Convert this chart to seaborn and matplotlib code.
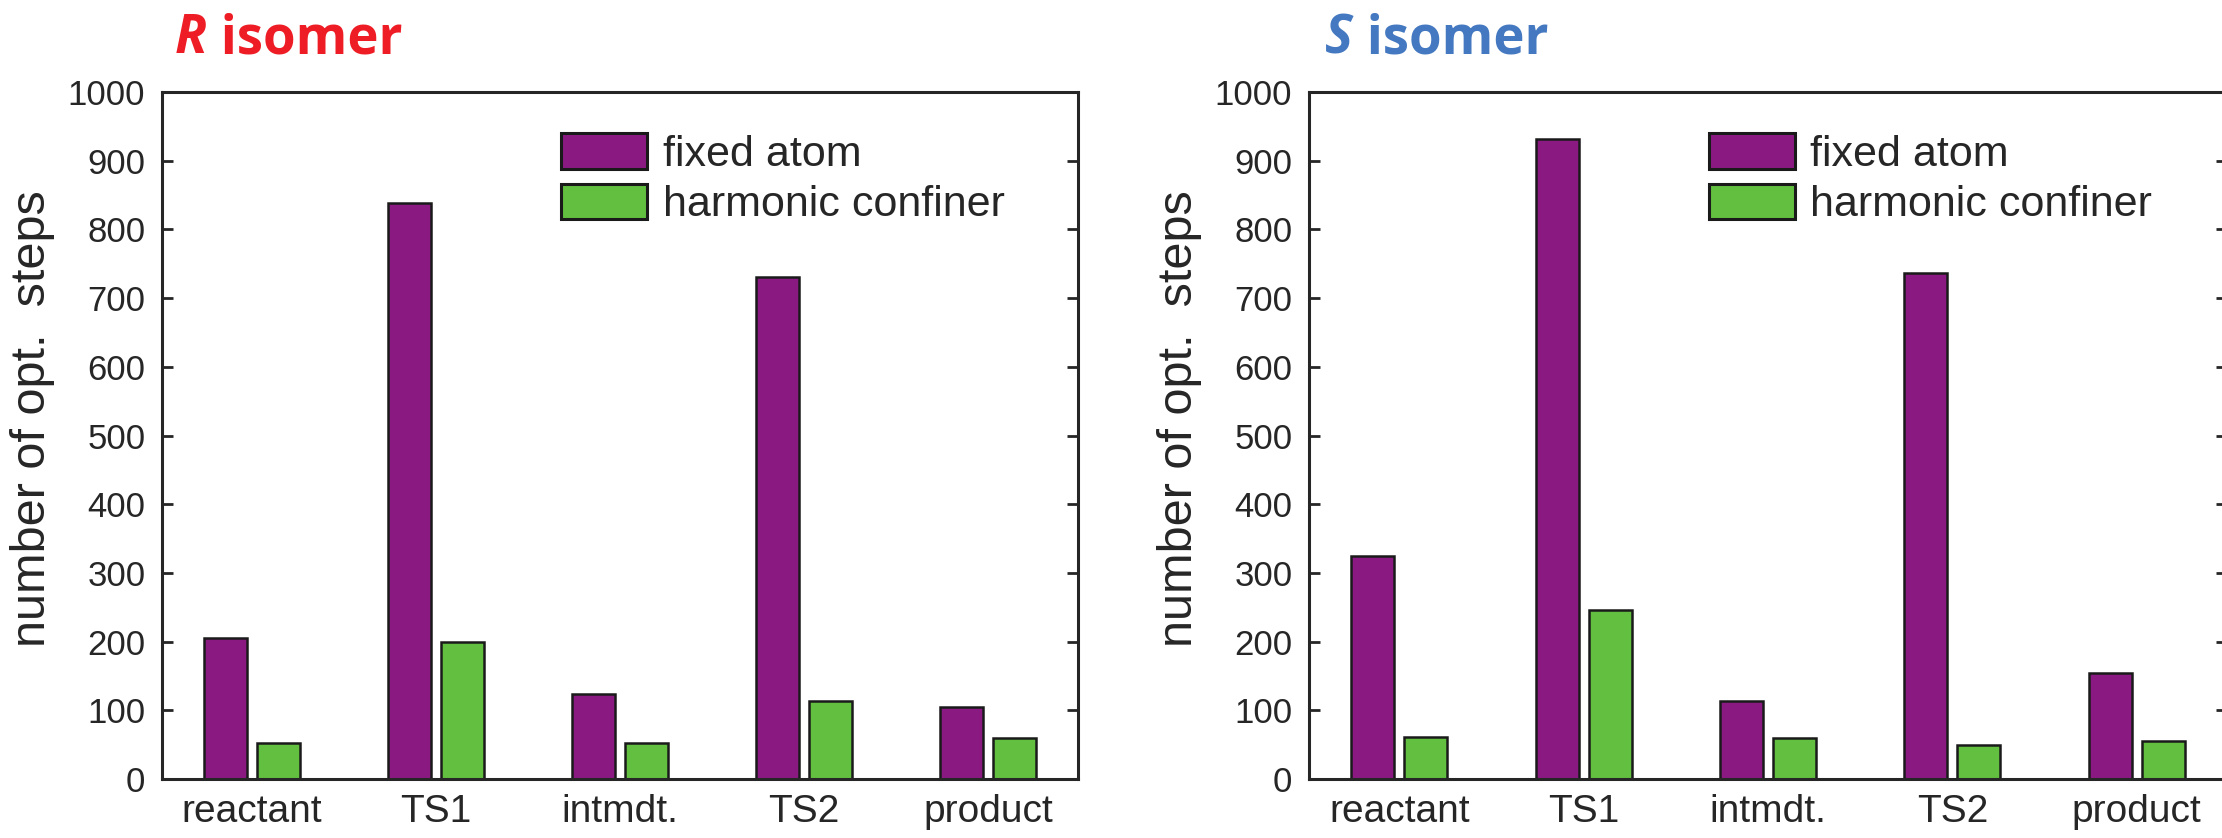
import pandas as pd
import seaborn as sns
import matplotlib.pyplot as plt
from matplotlib.patches import Patch

## categories on the x axis and the two methods compared
stages = ['reactant', 'TS1', 'intmdt.', 'TS2', 'product']
methods = ['fixed atom', 'harmonic confiner']

## number of optimisation steps
r_fixed = [205, 838, 124, 731, 105]
r_harmonic = [52, 200, 52, 114, 60]
s_fixed = [325, 931, 114, 736, 155]
s_harmonic = [61, 246, 60, 50, 56]

purple = '#8A1A82'
green = '#62BF40'
ink = '#262626'

sns.set_theme(style='white')
plt.rcParams['font.family'] = ['Liberation Sans', 'DejaVu Sans']


def long_table(fixed, harmonic):
    ##seaborn wants long form: one row per bar
    return pd.DataFrame({
        'stage': stages * 2,
        'method': [methods[0]] * len(stages) + [methods[1]] * len(stages),
        'steps': fixed + harmonic,
    })


fig = plt.figure(figsize=(22.22, 8.38), dpi=100)
ax_r = fig.add_axes([162 / 2222, 59 / 838, 916 / 2222, 687 / 838])
ax_s = fig.add_axes([1309 / 2222, 59 / 838, 918 / 2222, 687 / 838])

panels = [(ax_r, r_fixed, r_harmonic), (ax_s, s_fixed, s_harmonic)]
for ax, fixed, harmonic in panels:
    df = long_table(fixed, harmonic)
    sns.barplot(data=df, x='stage', y='steps', hue='method', order=stages,
                hue_order=methods, palette=[purple, green], width=0.576,
                gap=0.19, edgecolor='#1a1a1a', linewidth=1.8, saturation=1,
                legend=False, ax=ax)
    ax.set_xlim(-0.49, 4.49)
    ax.set_ylim(0, 1000)
    ax.set_yticks(range(0, 1001, 100))
    ax.set_xlabel('')
    ax.set_ylabel('number of opt.  steps', fontsize=35, color=ink)
    ax.yaxis.set_label_coords(-0.1168, 0.524)
    ax.tick_params(axis='y', direction='in', length=8, width=2, color=ink,
                   left=True, right=True, labelsize=25, labelcolor=ink, pad=12)
    ax.tick_params(axis='x', length=0, labelsize=28, labelcolor=ink, pad=11)
    for sp in ax.spines.values():
        sp.set_visible(True)
        sp.set_color(ink)
        sp.set_linewidth(2.2)

    handles = [Patch(facecolor=purple, edgecolor='#1a1a1a', linewidth=2.2),
               Patch(facecolor=green, edgecolor='#1a1a1a', linewidth=2.2)]
    ax.legend(handles, methods, loc='upper left', bbox_to_anchor=(0.436, 0.94),
              frameon=False, fontsize=31, handlelength=2.0, handleheight=0.9,
              handletextpad=0.35, labelspacing=0.2, borderpad=0, borderaxespad=0,
              labelcolor=ink)

## panel titles: italic bold letter followed by bold "isomer"
for x, letter, colour in [(175, 'R', '#EE1D25'), (1325, 'S', '#4478C0')]:
    t = fig.text(x / 2222, 1 - 53 / 838, letter, fontsize=38, fontweight='bold',
                 fontstyle='italic', color=colour, family='Open Sans',
                 va='baseline', ha='left')
    ax_r.annotate(' isomer', xy=(1, 0), xycoords=t, fontsize=38,
                  fontweight='bold', color=colour, family='Open Sans',
                  va='bottom', ha='left', annotation_clip=False)

fig.savefig('out.png', dpi=100)
